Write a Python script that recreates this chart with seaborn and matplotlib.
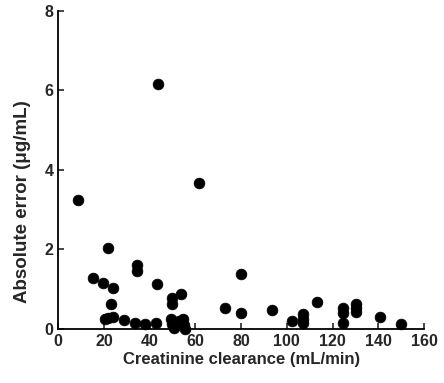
import matplotlib
matplotlib.use("Agg")
import matplotlib.pyplot as plt
import seaborn as sns
import pandas as pd

# creatinine clearance (mL/min) vs absolute error (ug/mL)
clearance = [8.5, 43.5, 61.6, 22.0, 15.1, 19.8, 24.2, 34.4, 34.4, 43.1,
             23.1, 22.0, 24.2, 20.5, 28.8, 33.8, 38.0, 42.8, 49.6, 49.9,
             53.7, 49.5, 50.0, 50.5, 53.0, 54.5, 55.0, 55.5, 79.8, 80.0,
             72.9, 93.6, 102.2, 107.1, 107.1, 107.1, 113.2, 124.6, 124.6,
             124.6, 130.4, 130.4, 130.4, 140.9, 149.8]
abs_error = [3.25, 6.17, 3.67, 2.04, 1.28, 1.16, 1.02, 1.62, 1.45, 1.13,
             0.62, 0.27, 0.31, 0.24, 0.23, 0.14, 0.12, 0.14, 0.77, 0.63,
             0.89, 0.25, 0.12, 0.03, 0.20, 0.25, 0.10, 0.00, 1.38, 0.41,
             0.52, 0.49, 0.20, 0.37, 0.25, 0.16, 0.67, 0.52, 0.39,
             0.16, 0.63, 0.52, 0.42, 0.31, 0.12]

x_ticks = [0, 20, 40, 60, 80, 100, 120, 140, 160]
y_ticks = [0, 2, 4, 6, 8]

df = pd.DataFrame({"clearance": clearance, "abs_error": abs_error})

sns.set_style("ticks")
plt.rcParams["font.family"] = ["Liberation Sans", "DejaVu Sans"]

fig = plt.figure(figsize=(4.44, 3.83), dpi=100)
ax = fig.add_axes([0.131, 0.141, 0.824, 0.831])

sns.scatterplot(data=df, x="clearance", y="abs_error", ax=ax,
                color="black", edgecolor="black", s=60, linewidth=0.5,
                legend=False, clip_on=False)

ax.set_xlim(0, 160)
ax.set_ylim(0, 8)
ax.set_xticks(x_ticks)
ax.set_yticks(y_ticks)
ax.tick_params(direction="in", length=4, width=1.2, labelsize=11.5)
for lab in ax.get_xticklabels() + ax.get_yticklabels():
    lab.set_fontweight("bold")

ax.set_xlabel("Creatinine clearance (mL/min)", fontsize=12, fontweight="bold", labelpad=2)
ax.set_ylabel("Absolute error (\u03bcg/mL)", fontsize=13.5, fontweight="bold")
ax.yaxis.set_label_coords(-0.075, 0.4)

sns.despine(ax=ax)
for side in ["left", "bottom"]:
    ax.spines[side].set_linewidth(1.3)
    ax.spines[side].set_color("black")

fig.savefig("out.png", dpi=100)
